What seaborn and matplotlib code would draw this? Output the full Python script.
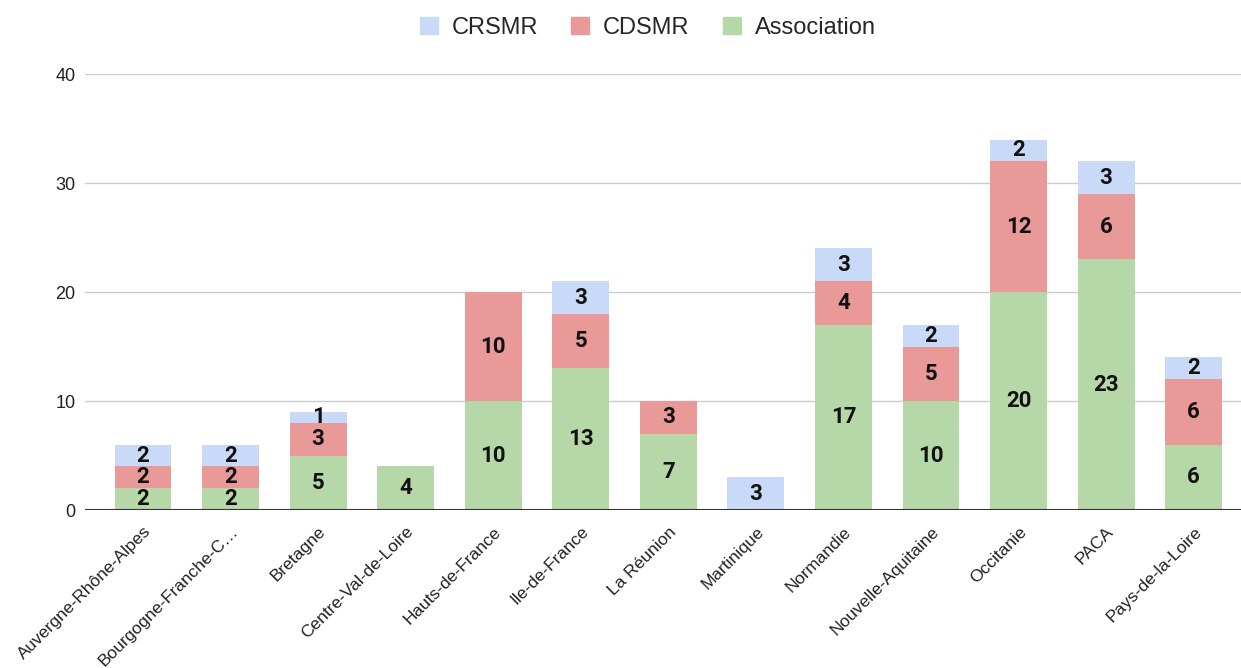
import matplotlib
matplotlib.use("Agg")
import matplotlib.pyplot as plt
import matplotlib.patches as mpatches
import numpy as np
import pandas as pd
import seaborn as sns

# Data
regions = ["Auvergne-Rhône-Alpes", "Bourgogne-Franche-C…", "Bretagne",
           "Centre-Val-de-Loire", "Hauts-de-France", "Ile-de-France",
           "La Réunion", "Martinique", "Normandie", "Nouvelle-Aquitaine",
           "Occitanie", "PACA", "Pays-de-la-Loire"]
association = [2, 2, 5, 4, 10, 13, 7, 0, 17, 10, 20, 23, 6]
cdsmr = [2, 2, 3, 0, 10, 5, 3, 0, 4, 5, 12, 6, 6]
crsmr = [2, 2, 1, 0, 0, 3, 0, 3, 3, 2, 2, 3, 2]

colors = {"CRSMR": "#c9daf8", "CDSMR": "#ea9999", "Association": "#b6d7a8"}

df = pd.DataFrame({"region": regions, "Association": association,
                   "CDSMR": cdsmr, "CRSMR": crsmr})
df["lvl1"] = df["Association"]
df["lvl2"] = df["lvl1"] + df["CDSMR"]
df["lvl3"] = df["lvl2"] + df["CRSMR"]

sns.set_style("white")
plt.rcParams["font.family"] = ["Liberation Sans", "DejaVu Sans"]

fig = plt.figure(figsize=(12.41, 6.68), dpi=100)
ax = fig.add_axes([0.0685, 0.2365, 0.9315, 0.6525])

# stacked bars drawn as cumulative totals, tallest first
for col, name in [("lvl3", "CRSMR"), ("lvl2", "CDSMR"), ("lvl1", "Association")]:
    sns.barplot(data=df, x="region", y=col, color=colors[name], saturation=1,
                width=0.65, ax=ax, linewidth=0, zorder=2)

# segment labels
for i in range(len(df)):
    base = 0
    for name in ["Association", "CDSMR", "CRSMR"]:
        v = df[name].iloc[i]
        if v > 0:
            ax.text(i, base + v / 2, str(v), ha="center", va="center",
                    fontsize=16, fontweight="bold", color="#111111",
                    family=["Roboto", "DejaVu Sans"], zorder=4)
        base += v

ax.set_ylim(0, 40)
ax.set_xlim(-0.662, 12.54)
ax.set_yticks([0, 10, 20, 30, 40])
ax.yaxis.grid(True, color="#cccccc", linewidth=1, zorder=0)
ax.set_axisbelow(True)
ax.axhline(0, color="#333333", linewidth=1.5, zorder=3)
for s in ax.spines.values():
    s.set_visible(False)
ax.set_xlabel("")
ax.set_ylabel("")
ax.tick_params(axis="y", labelsize=13, colors="#222222", length=0, pad=7)
ax.tick_params(axis="x", length=0, pad=10)
plt.setp(ax.get_xticklabels(), rotation=45, ha="right", rotation_mode="anchor",
         fontsize=12.5, color="#222222")

handles = [mpatches.Patch(color=colors[n], label=n) for n in ["CRSMR", "CDSMR", "Association"]]
fig.legend(handles=handles, loc="upper center", bbox_to_anchor=(0.522, 1.007), ncol=3,
           frameon=False, fontsize=17, handlelength=0.75, handleheight=0.75,
           handletextpad=0.6, columnspacing=1.4)

fig.savefig("out.png", dpi=100)
